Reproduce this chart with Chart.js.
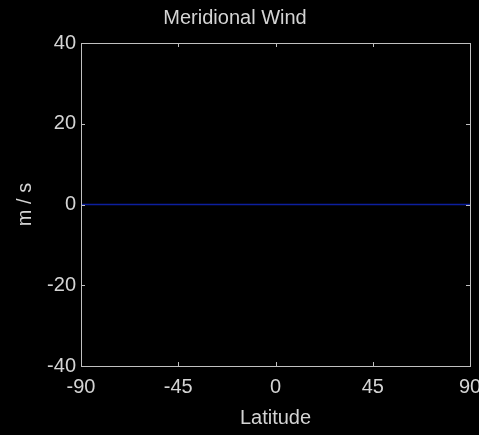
<!DOCTYPE html>
<html><head><meta charset="utf-8">
<script src="https://cdn.jsdelivr.net/npm/chart.js@4"></script>
<style>html,body{margin:0;padding:0;background:#000;}#wrap{width:479px;height:435px;}</style>
</head><body><div id="wrap"><canvas id="c" width="479" height="435"></canvas></div>
<script>
const latitudes = [-90, -60, -30, 0, 30, 60, 90];
const windValues = [0, 0, 0, 0, 0, 0, 0];
const xTicks = [-90, -45, 0, 45, 90];
const yTicks = [-40, -20, 0, 20, 40];

const FG = '#d4d4d4';
const AX = '#c0c0c0';
const FONT = 'Liberation Sans, Arial, sans-serif';

const boxTicks = {
  id: 'boxTicks',
  afterDraw(chart) {
    const {ctx, chartArea: a, scales: {x, y}} = chart;
    ctx.save();
    ctx.strokeStyle = AX;
    ctx.lineWidth = 1;
    ctx.strokeRect(Math.round(a.left) + 0.5, Math.round(a.top) + 0.5, Math.round(a.right - a.left), Math.round(a.bottom - a.top));
    const L = 4;
    ctx.beginPath();
    xTicks.forEach(v => {
      const px = Math.round(x.getPixelForValue(v)) + 0.5;
      ctx.moveTo(px, a.top); ctx.lineTo(px, a.top + L);
      ctx.moveTo(px, a.bottom); ctx.lineTo(px, a.bottom - L);
    });
    yTicks.forEach(v => {
      const py = Math.round(y.getPixelForValue(v)) + 0.5;
      ctx.moveTo(a.left, py); ctx.lineTo(a.left + L, py);
      ctx.moveTo(a.right, py); ctx.lineTo(a.right - L, py);
    });
    ctx.stroke();
    ctx.restore();
  }
};

new Chart(document.getElementById('c'), {
  type: 'line',
  data: {
    datasets: [{
      data: latitudes.map((lat, i) => ({x: lat, y: windValues[i]})),
      borderColor: '#0c1f9e',
      borderWidth: 1.5,
      pointRadius: 0,
      fill: false,
      tension: 0
    }]
  },
  options: {
    responsive: false,
    animation: false,
    devicePixelRatio: 1,
    layout: {padding: {left: 0, right: 9, top: 0, bottom: 0}},
    plugins: {
      legend: {display: false},
      tooltip: {enabled: false},
      title: {
        display: true,
        text: 'Meridional Wind',
        color: FG,
        font: {family: FONT, size: 20, weight: 'normal', lineHeight: 1.2},
        padding: {top: 6, bottom: 13}
      }
    },
    scales: {
      x: {
        type: 'linear', min: -90, max: 90,
        afterBuildTicks(s) { s.ticks = xTicks.map(v => ({value: v})); },
        afterFit(s) { s.height = 69; s.paddingLeft = 0; s.paddingRight = 0; },
        grid: {display: false, drawTicks: false},
        border: {display: false},
        ticks: {color: FG, padding: 9, maxRotation: 0, autoSkip: false, font: {family: FONT, size: 20}},
        title: {display: true, text: 'Latitude', color: FG, font: {family: FONT, size: 20, lineHeight: 1.2}, padding: {top: 0, bottom: 4.5}}
      },
      y: {
        type: 'linear', min: -40, max: 40,
        afterBuildTicks(s) { s.ticks = yTicks.map(v => ({value: v})); },
        afterFit(s) { s.width = 81; s.paddingTop = 0; s.paddingBottom = 0; },
        grid: {display: false, drawTicks: false},
        border: {display: false},
        ticks: {color: FG, padding: 5, autoSkip: false, font: {family: FONT, size: 20}},
        title: {display: true, text: 'm / s', color: FG, font: {family: FONT, size: 20, lineHeight: 1.2}, padding: {top: 13.5, bottom: 0}}
      }
    }
  },
  plugins: [boxTicks]
});
</script></body></html>
